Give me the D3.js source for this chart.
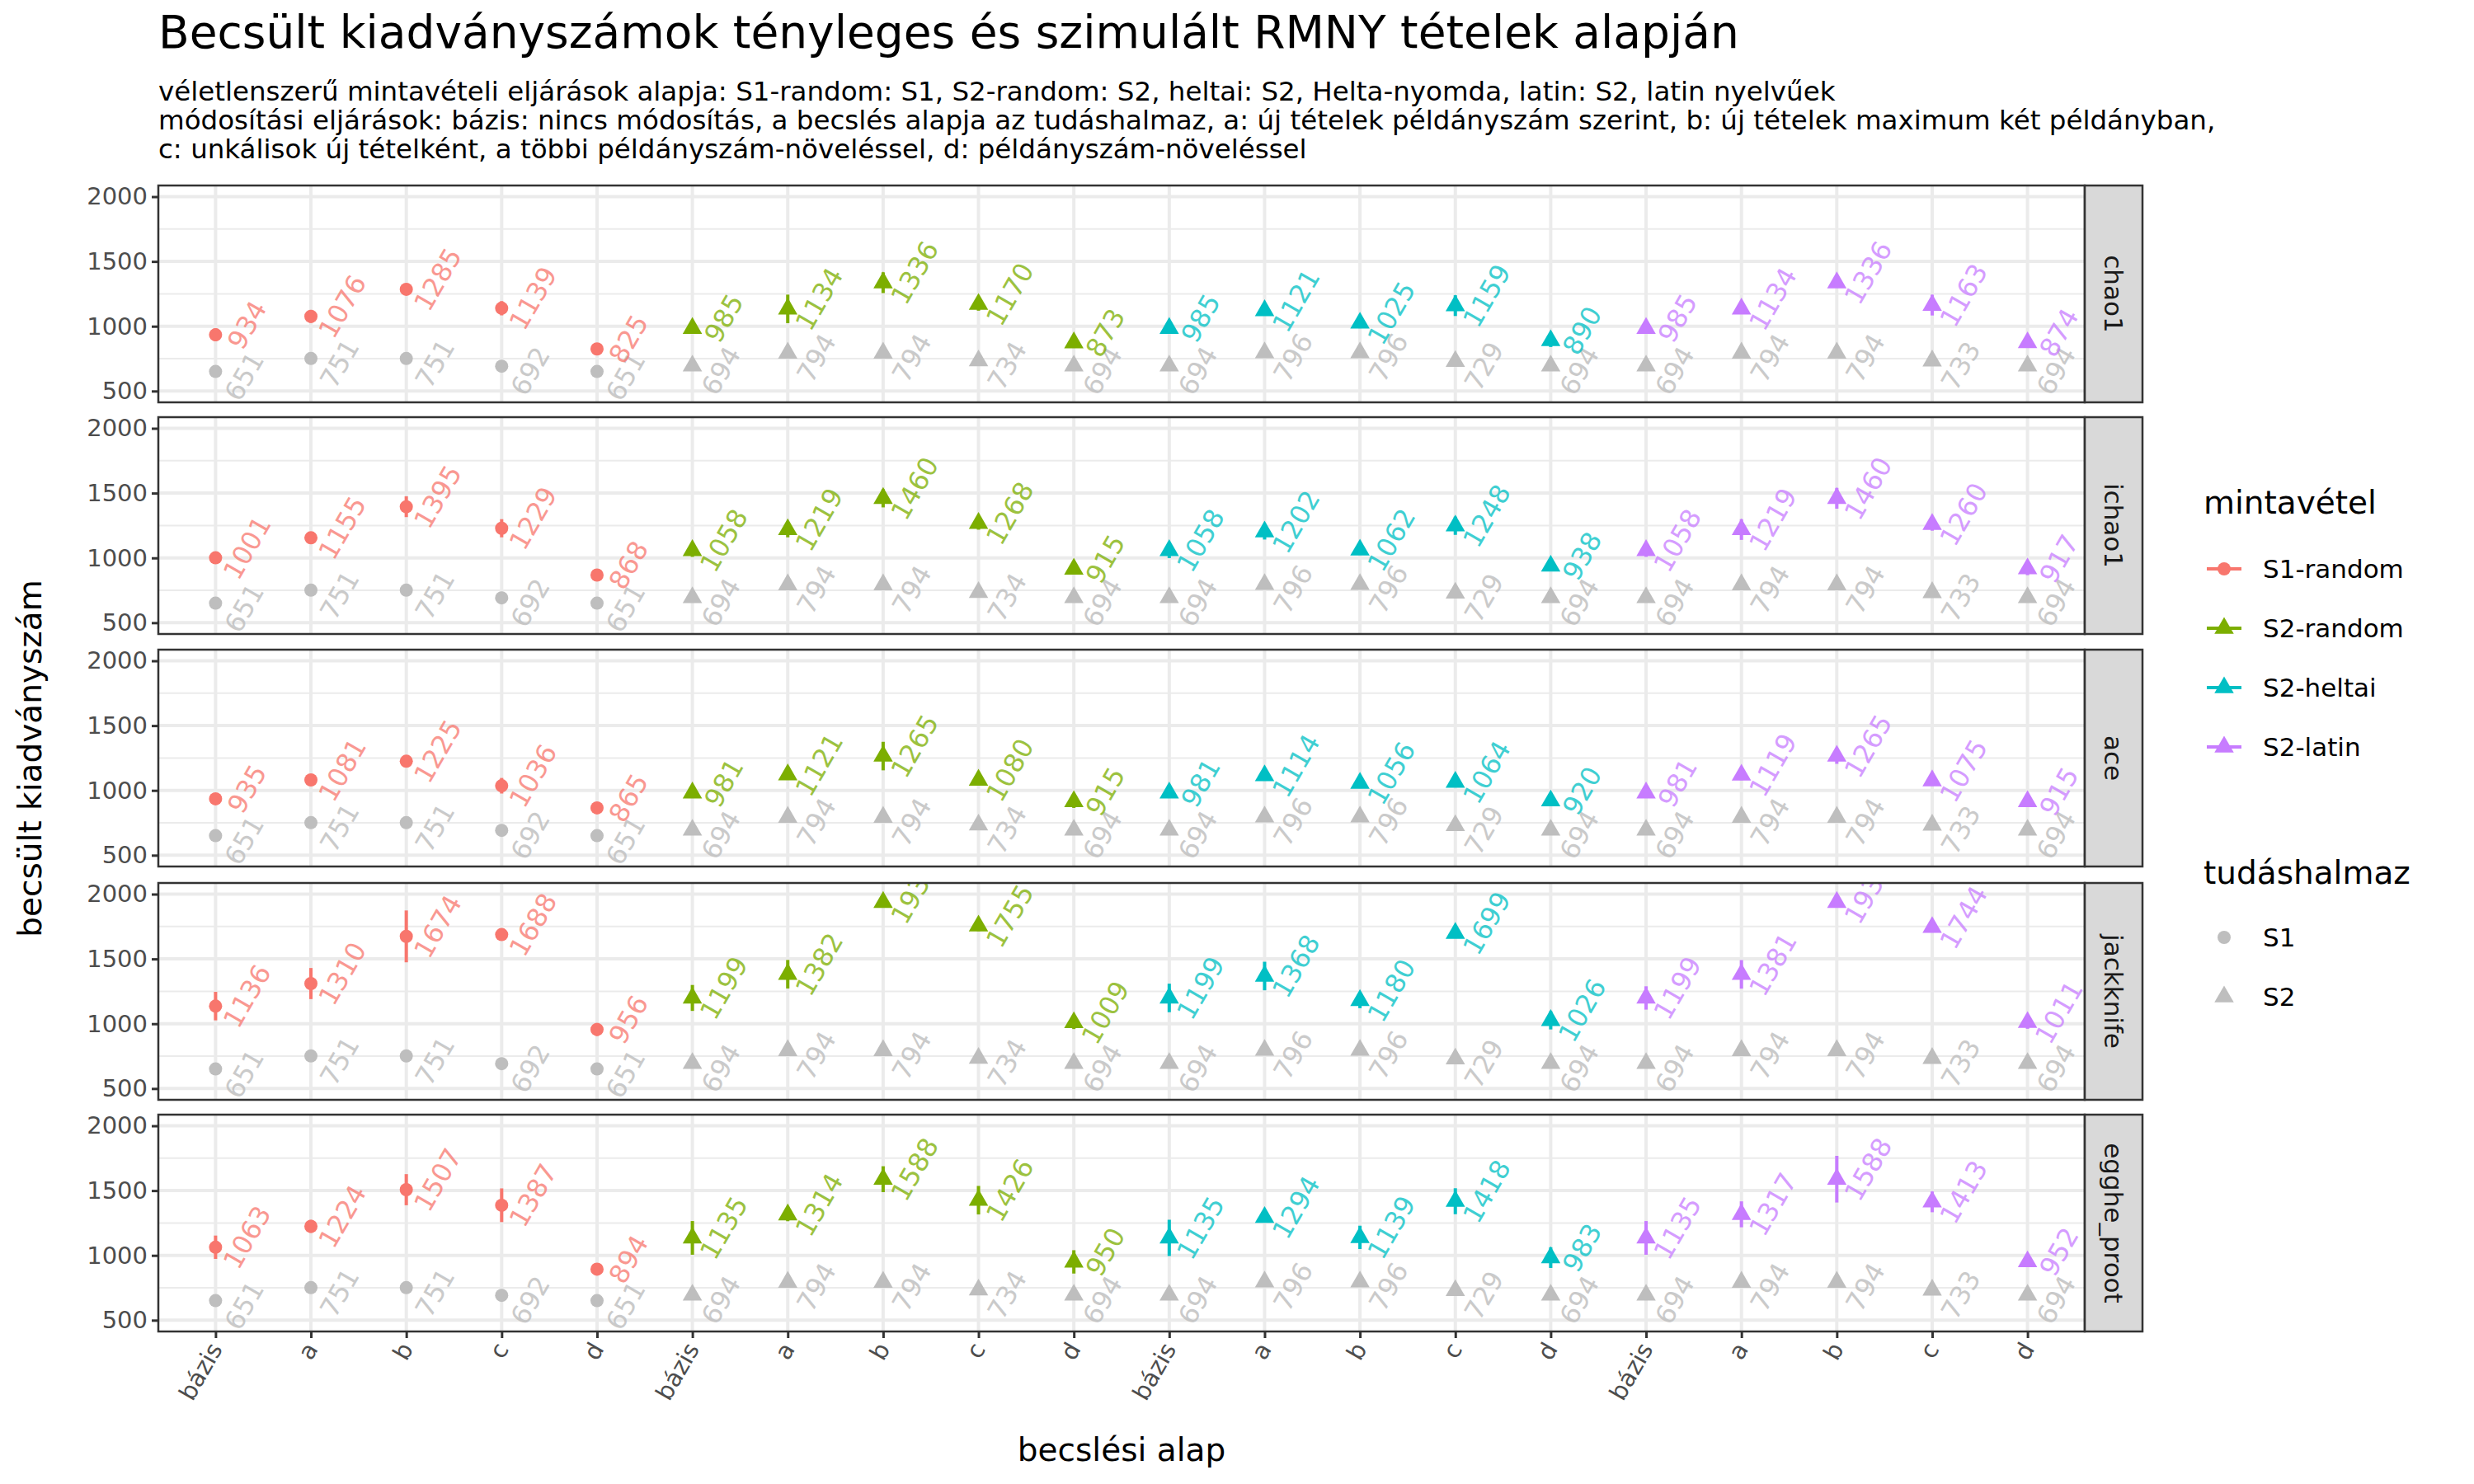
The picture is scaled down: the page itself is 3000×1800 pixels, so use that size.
<!DOCTYPE html>
<html><head><meta charset="utf-8">
<script src="https://cdn.jsdelivr.net/npm/d3@7"></script>
<style>body{margin:0;background:#fff;font-family:"DejaVu Sans",sans-serif}</style>
</head><body><div id="chart"></div>
<script>
var groups = ["S1-random", "S2-random", "S2-heltai", "S2-latin"];
var bases = ["bázis", "a", "b", "c", "d"];
var methods = ["chao1", "ichao1", "ace", "jackknife", "egghe_proot"];
// known (grey) values per group x basis
var knownVals = [[651, 751, 751, 692, 651], [694, 794, 794, 734, 694], [694, 796, 796, 729, 694], [694, 794, 794, 733, 694]];
// estimates [method][group][basis]
var estVals = [
  [[934, 1076, 1285, 1139, 825], [985, 1134, 1336, 1170, 873], [985, 1121, 1025, 1159, 890], [985, 1134, 1336, 1163, 874]],
  [[1001, 1155, 1395, 1229, 868], [1058, 1219, 1460, 1268, 915], [1058, 1202, 1062, 1248, 938], [1058, 1219, 1460, 1260, 917]],
  [[935, 1081, 1225, 1036, 865], [981, 1121, 1265, 1080, 915], [981, 1114, 1056, 1064, 920], [981, 1119, 1265, 1075, 915]],
  [[1136, 1310, 1674, 1688, 956], [1199, 1382, 1937, 1755, 1009], [1199, 1368, 1180, 1699, 1026], [1199, 1381, 1937, 1744, 1011]],
  [[1063, 1224, 1507, 1387, 894], [1135, 1314, 1588, 1426, 950], [1135, 1294, 1139, 1418, 983], [1135, 1317, 1588, 1413, 952]]
];
// error bar half-widths (approximate)
var errVals = [
  [[50, 50, 45, 55, 25], [40, 110, 80, 50, 30], [25, 20, 40, 80, 50], [25, 35, 30, 80, 20]],
  [[45, 40, 80, 70, 40], [50, 60, 70, 50, 40], [60, 60, 30, 70, 40], [50, 80, 80, 50, 50]],
  [[30, 40, 30, 60, 30], [40, 40, 110, 30, 50], [30, 30, 30, 30, 30], [40, 40, 60, 40, 30]],
  [[110, 120, 200, 40, 50], [100, 110, 40, 40, 50], [110, 110, 60, 30, 70], [90, 110, 40, 40, 50]],
  [[90, 50, 120, 130, 30], [130, 50, 100, 110, 90], [140, 40, 90, 100, 80], [130, 100, 180, 80, 40]]
];
var colors = ["#F8766D", "#7CAE00", "#00BFC4", "#C77CFF"];
var yTicks = [500, 1000, 1500, 2000];

var W = 3000, H = 1800;
var pl = 192, pr = 2528, stripW = 70;
var panelTops = [225, 506, 788, 1071, 1352], ph = 263;

var svg = d3.select("#chart").append("svg").attr("width", W).attr("height", H)
  .style("font-family", "DejaVu Sans, sans-serif");

var cats = [];
groups.forEach(function (g, gi) { bases.forEach(function (b, bi) { cats.push(gi + "_" + bi); }); });
var x = d3.scalePoint().domain(cats).range([pl, pr]).padding(0.6);
var step = x.step();
var y = d3.scaleLinear().domain([413, 2086]).range([ph, 0]);
var tri = d3.symbol().type(d3.symbolTriangle).size(240);

// titles
svg.append("text").attr("x", 192).attr("y", 58).attr("font-size", 55).attr("fill", "#000")
  .text("Becsült kiadványszámok tényleges és szimulált RMNY tételek alapján");
var subs = ["véletlenszerű mintavételi eljárások alapja: S1-random: S1, S2-random: S2, heltai: S2, Helta-nyomda, latin: S2, latin nyelvűek",
  "módosítási eljárások: bázis: nincs módosítás, a becslés alapja az tudáshalmaz, a: új tételek példányszám szerint, b: új tételek maximum két példányban,",
  "c: unkálisok új tételként, a többi példányszám-növeléssel, d: példányszám-növeléssel"];
subs.forEach(function (s, i) {
  svg.append("text").attr("x", 192).attr("y", 122 + i * 35).attr("font-size", 32.5).text(s);
});

methods.forEach(function (m, mi) {
  var g = svg.append("g").attr("transform", "translate(0," + panelTops[mi] + ")");
  var cid = "clip" + mi;
  g.append("clipPath").attr("id", cid).append("rect").attr("x", pl).attr("y", 0).attr("width", pr - pl).attr("height", ph);
  g.append("rect").attr("x", pl).attr("y", 0).attr("width", pr - pl).attr("height", ph).attr("fill", "#fff");
  // grid
  [750, 1250, 1750].forEach(function (v) {
    g.append("line").attr("x1", pl).attr("x2", pr).attr("y1", y(v)).attr("y2", y(v)).attr("stroke", "#ebebeb").attr("stroke-width", 2);
  });
  yTicks.forEach(function (v) {
    g.append("line").attr("x1", pl).attr("x2", pr).attr("y1", y(v)).attr("y2", y(v)).attr("stroke", "#ebebeb").attr("stroke-width", 4);
  });
  cats.forEach(function (c) {
    g.append("line").attr("x1", x(c)).attr("x2", x(c)).attr("y1", 0).attr("y2", ph).attr("stroke", "#ebebeb").attr("stroke-width", 4);
  });
  var yAxis = d3.axisLeft(y).tickValues(yTicks).tickFormat(d3.format("d")).tickSize(8).tickPadding(5);
  var ag = g.append("g").attr("transform", "translate(" + pl + ",0)").call(yAxis);
  ag.select(".domain").remove();
  ag.selectAll("line").attr("stroke", "#333").attr("stroke-width", 3);
  ag.selectAll("text").attr("font-size", 29).attr("fill", "#4d4d4d").attr("font-family", "DejaVu Sans, sans-serif");

  var pg = g.append("g").attr("clip-path", "url(#" + cid + ")");
  groups.forEach(function (gr, gi) {
    bases.forEach(function (b, bi) {
      var cx = x(gi + "_" + bi);
      var kv = knownVals[gi][bi], ev = estVals[mi][gi][bi], er = errVals[mi][gi][bi];
      var col = colors[gi];
      // known
      if (gi === 0) pg.append("circle").attr("cx", cx).attr("cy", y(kv)).attr("r", 8).attr("fill", "#bebebe");
      else pg.append("path").attr("d", tri).attr("transform", "translate(" + cx + "," + y(kv) + ")").attr("fill", "#bebebe");
      pg.append("text").attr("transform", "translate(" + (cx + step * 0.3) + "," + (y(kv) + 6) + ") rotate(-60)")
        .attr("text-anchor", "middle").attr("dy", "0.35em").attr("font-size", 32).attr("fill", "#bebebe").attr("opacity", 0.8).text(kv);
      // estimate
      pg.append("line").attr("x1", cx).attr("x2", cx).attr("y1", y(ev - er)).attr("y2", y(ev + er)).attr("stroke", col).attr("stroke-width", 4);
      if (gi === 0) pg.append("circle").attr("cx", cx).attr("cy", y(ev)).attr("r", 8).attr("fill", col);
      else pg.append("path").attr("d", tri).attr("transform", "translate(" + cx + "," + y(ev) + ")").attr("fill", col);
      pg.append("text").attr("transform", "translate(" + (cx + step * 0.33) + "," + (y(ev) - 12) + ") rotate(-60)")
        .attr("text-anchor", "middle").attr("dy", "0.35em").attr("font-size", 32).attr("fill", col).attr("opacity", 0.75).text(ev);
    });
  });
  g.append("rect").attr("x", pl).attr("y", 0).attr("width", pr - pl).attr("height", ph).attr("fill", "none").attr("stroke", "#333").attr("stroke-width", 2.5);
  // strip
  g.append("rect").attr("x", pr).attr("y", 0).attr("width", stripW).attr("height", ph).attr("fill", "#d9d9d9").attr("stroke", "#333").attr("stroke-width", 2.5);
  g.append("text").attr("transform", "translate(" + (pr + stripW / 2) + "," + (ph / 2) + ") rotate(90)")
    .attr("text-anchor", "middle").attr("dy", "0.35em").attr("font-size", 31).attr("fill", "#1a1a1a").text(m);
});

// x axis
var lastBottom = panelTops[4] + ph;
var xAxis = d3.axisBottom(x).tickSize(8).tickPadding(6).tickFormat(function (c) { return bases[+c.split("_")[1]]; });
var xg = svg.append("g").attr("transform", "translate(0," + lastBottom + ")").call(xAxis);
xg.select(".domain").remove();
xg.selectAll("line").attr("stroke", "#333").attr("stroke-width", 3);
xg.selectAll("text").attr("font-size", 29).attr("fill", "#4d4d4d").attr("font-family", "DejaVu Sans, sans-serif")
  .attr("text-anchor", "end").attr("dy", "0.35em")
  .attr("transform", "translate(0,16) rotate(-60)").attr("x", 0).attr("y", 0);

svg.append("text").attr("x", (pl + pr) / 2).attr("y", 1772).attr("text-anchor", "middle").attr("font-size", 39).text("becslési alap");
svg.append("text").attr("transform", "translate(50," + ((panelTops[0] + lastBottom) / 2) + ") rotate(-90)")
  .attr("text-anchor", "middle").attr("font-size", 39).text("becsült kiadványszám");

// legends
var lx = 2672;
svg.append("text").attr("x", lx).attr("y", 623).attr("font-size", 39).text("mintavétel");
groups.forEach(function (gr, gi) {
  var yy = 690 + gi * 72;
  svg.append("line").attr("x1", lx + 4).attr("x2", lx + 46).attr("y1", yy).attr("y2", yy).attr("stroke", colors[gi]).attr("stroke-width", 4);
  svg.append("path").attr("d", gi === 0 ? d3.symbol().type(d3.symbolCircle).size(200) : tri).attr("transform", "translate(" + (lx + 25) + "," + yy + ")").attr("fill", colors[gi]);
  svg.append("text").attr("x", lx + 72).attr("y", yy).attr("dy", "0.35em").attr("font-size", 31).text(gr);
});
svg.append("text").attr("x", lx).attr("y", 1072).attr("font-size", 39).text("tudáshalmaz");
["S1", "S2"].forEach(function (s, i) {
  var yy = 1137 + i * 72;
  svg.append("path").attr("d", i === 0 ? d3.symbol().type(d3.symbolCircle).size(200) : tri).attr("transform", "translate(" + (lx + 25) + "," + yy + ")").attr("fill", "#bebebe");
  svg.append("text").attr("x", lx + 72).attr("y", yy).attr("dy", "0.35em").attr("font-size", 31).text(s);
});
</script></body></html>
